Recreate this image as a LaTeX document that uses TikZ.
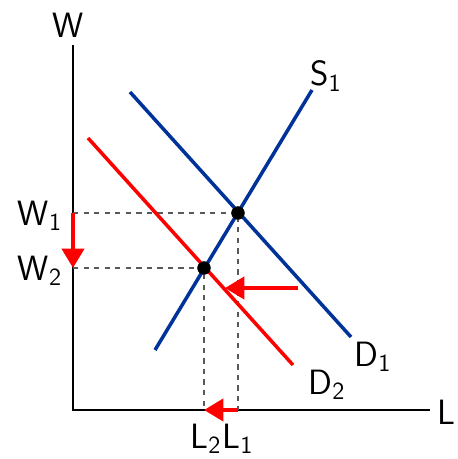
\documentclass[tikz,border=0pt]{standalone}
\usepackage{tikz}
\usetikzlibrary{arrows.meta}
\definecolor{curveblue}{RGB}{0,51,153}
\definecolor{shiftred}{RGB}{255,0,0}
\tikzset{
  lbl/.style={font=\sffamily\fontsize{20}{24}\selectfont, inner sep=0pt},
  curve/.style={line width=2pt},
  guide/.style={dashed, gray!70!black, line width=0.6pt},
  movearrow/.style={shiftred, line width=2.4pt, -{Triangle[length=11pt,width=12.5pt]}},
  eqpt/.style={circle, fill=black, inner sep=0pt, minimum size=7.5pt}
}
\begin{document}
\begin{tikzpicture}[x=0.02cm, y=-0.02cm]
  \useasboundingbox (0,0) rectangle (457,459);
  % axes
  \coordinate (O) at (73,410);
  \coordinate (top) at (73,45);
  \coordinate (right) at (430,410);
  \draw[line width=0.7pt] (top) -- (O) -- (right);
  \node[lbl] (W) at (68,25) {W};
  \node[lbl] (L) at (446,412) {L};
  % equilibria
  \node[eqpt] (E1) at (238,213) {};
  \node[eqpt] (E2) at (204,268) {};
  \coordinate (W1a) at (73,213);
  \coordinate (W2a) at (73,268);
  \coordinate (L1a) at (238,410);
  \coordinate (L2a) at (204,410);
  \draw[guide] (W1a) -- (E1.center) -- (L1a);
  \draw[guide] (W2a) -- (E2.center) -- (L2a);
  % supply and demand
  \coordinate (S1lo) at (155,350);
  \coordinate (S1hi) at (312,90);
  \coordinate (D1hi) at (130,92);
  \coordinate (D1lo) at (351,337);
  \coordinate (D2hi) at (88,138);
  \coordinate (D2lo) at (293,365);
  \draw[curve, curveblue] (S1lo) -- (S1hi);
  \draw[curve, curveblue] (D1hi) -- (D1lo);
  \draw[curve, shiftred] (D2hi) -- (D2lo);
  \node[eqpt] at (E1) {};
  \node[eqpt] at (E2) {};
  \node[lbl] (S1) at (326,76) {S\textsubscript{1}};
  \node[lbl] (D1) at (373,357) {D\textsubscript{1}};
  \node[lbl] (D2) at (327,385) {D\textsubscript{2}};
  \node[lbl] (W1) at (40,216) {W\textsubscript{1}};
  \node[lbl] (W2) at (40,271) {W\textsubscript{2}};
  \node[lbl] (L2) at (206,439) {L\textsubscript{2}};
  \node[lbl] (L1) at (238,439) {L\textsubscript{1}};
  % shifts
  \coordinate (Dfrom) at (298,288);
  \coordinate (Dto) at (225,288);
  \draw[movearrow] (W1a) -- (W2a);
  \draw[movearrow] (Dfrom) -- (Dto);
  \draw[movearrow] (L1a) -- (L2a);
\end{tikzpicture}
\end{document}
